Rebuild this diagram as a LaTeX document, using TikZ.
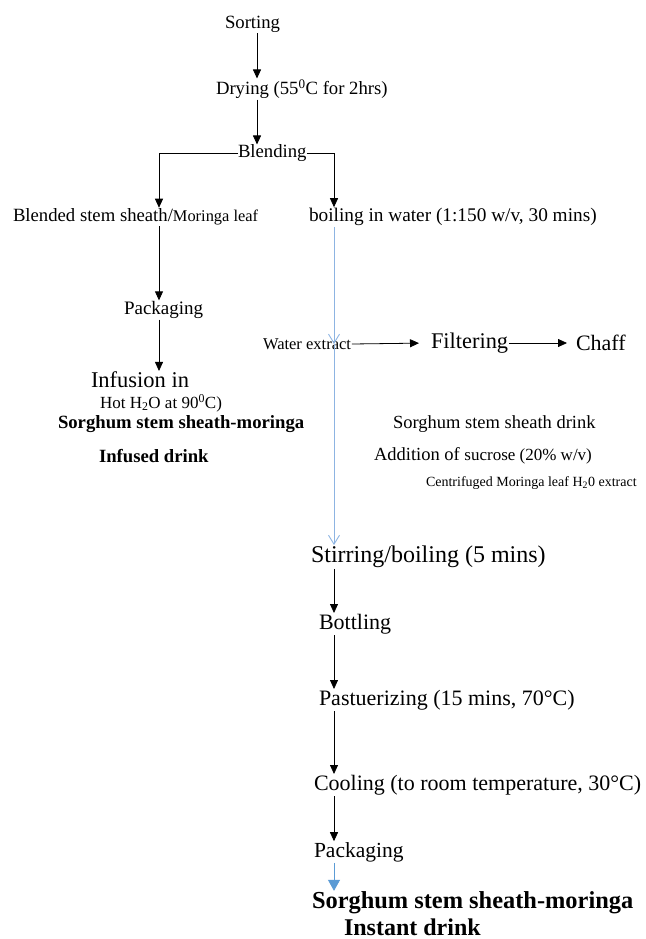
\documentclass[tikz,border=0pt]{standalone}
\usepackage{fontspec}
\setmainfont{Liberation Serif}
\usetikzlibrary{arrows.meta, positioning}
\definecolor{lineblue}{RGB}{141,180,226}
\definecolor{tipblue}{RGB}{91,155,213}
\newcommand{\fs}[1]{\fontsize{#1}{#1}\selectfont}

\begin{document}
\begin{tikzpicture} [x=1pt, y=-1pt,
        txt/.style={inner sep=0pt, outer sep=1pt, anchor=west},
        arr/.style={-{Triangle[width=8pt,length=9pt]}, line width=0.8pt},
        bluev/.style={-{Straight Barb[width=11pt,length=9pt]}, draw=lineblue, line width=0.9pt},
        bluef/.style={-{Triangle[width=12pt,length=11pt]}, draw=tipblue, line width=0.9pt}]
        \useasboundingbox (0,0) rectangle (645,939);

        % the three columns the arrows run down
        \coordinate (colA) at (159,0);
        \coordinate (colB) at (257,0);
        \coordinate (colC) at (334,0);

        \node (sort) [txt] at (224,24) {\fs{18.7}Sorting};
        \node (dry) [txt] at (215,89) {\fs{18.7}Drying (55\textsuperscript{0}C for 2hrs)};
        \node (blend) [txt, outer sep=0pt] at (238,153) {\fs{18.7}Blending};

        % left branch: infused drink
        \node (blended) [txt] at (12,217) {\fs{18.7}Blended stem sheath/{\fs{16.4}Moringa leaf}};
        \node (pack1) [txt] at (123,310) {\fs{19}Packaging};
        \node (infu) [txt] at (90,380) {\fs{22.5}Infusion in};
        \node (hot) [txt] at (99,403) {\fs{17}Hot H\textsubscript{2}O at 90\textsuperscript{0}C)};
        \node (inf1) [txt] at (57,424) {\fs{18.7}\bfseries Sorghum stem sheath-moringa};
        \node (inf2) [txt] at (98,456) {\fs{18.7}\bfseries Infused drink};

        % right branch: instant drink
        \node (boil) [txt] at (308,217) {\fs{19.3}boiling in water (1:150 w/v, 30 mins)};
        \node (wext) [txt] at (262,344) {\fs{16.5}Water extract};
        \node (filt) [txt] at (430,343) {\fs{22.4}Filtering};
        \node (chaff) [txt] at (575,343) {\fs{22}Chaff};
        \node (ssd) [txt] at (392,424) {\fs{18.5}Sorghum stem sheath drink};
        \node (sucr) [txt] at (373,456) {\fs{18.5}Addition of {\fs{17}sucrose (20\% w/v)}};
        \node (cent) [txt] at (425,483) {\fs{14}Centrifuged Moringa leaf H\textsubscript{2}0 extract};
        \node (stir) [txt] at (310,557) {\fs{24}Stirring/boiling (5 mins)};
        \node (bott) [txt] at (318,624) {\fs{22}Bottling};
        \node (past) [txt] at (318,700) {\fs{22}Pastuerizing (15 mins, 70°C)};
        \node (cool) [txt] at (313,785) {\fs{22}Cooling (to room temperature, 30°C)};
        \node (pack2) [txt] at (313,852) {\fs{21.5}Packaging};
        \node (fin1) [txt] at (311,903) {\fs{24.4}\bfseries Sorghum stem sheath-moringa};
        \node (fin2) [txt] at (343,927) {\fs{24}\bfseries Instant drink};

        \draw [arr] (sort.south -| colB) -- (dry.north -| colB);
        \draw [arr] (dry.south -| colB) -- (blend.north -| colB);
        \draw [arr] (blend.west) -| (blended.north -| colA);
        \draw [arr] (blend.east) -| (boil.north -| colC);

        \draw [arr] (blended.south -| colA) -- (pack1.north -| colA);
        \draw [arr] (pack1.south -| colA) -- (infu.north -| colA);

        \draw [bluev] (boil.south -| colC) -- (wext.center -| colC);
        \draw [bluev] (wext.center -| colC) -- (stir.north -| colC);
        \draw [arr, shorten >=11pt] (wext.east) -- (filt.west);
        \draw [arr, shorten >=8pt] (filt.east) -- (chaff.west);

        \draw [arr] (stir.south -| colC) -- (bott.north -| colC);
        \draw [arr] (bott.south -| colC) -- (past.north -| colC);
        \draw [arr] (past.south -| colC) -- (cool.north -| colC);
        \draw [arr] (cool.south -| colC) -- (pack2.north -| colC);
        \draw [bluef] (pack2.south -| colC) -- (fin1.north -| colC);
    \end{tikzpicture}
\end{document}
